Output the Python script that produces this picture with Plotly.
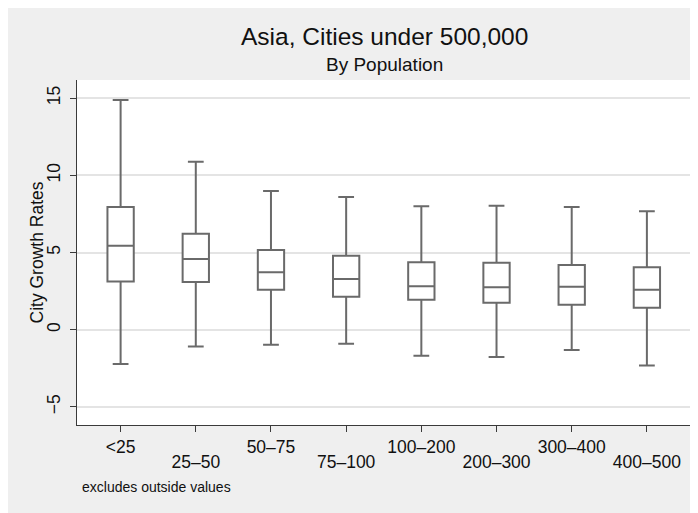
import plotly.graph_objects as go

# ---- data ----
categories = ["<25", "25\u201350", "50\u201375", "75\u2013100",
              "100\u2013200", "200\u2013300", "300\u2013400", "400\u2013500"]
upper_whisker = [14.88, 10.88, 8.98, 8.59, 7.99, 8.03, 7.95, 7.67]
q3_values     = [7.95, 6.22, 5.16, 4.79, 4.37, 4.34, 4.19, 4.04]
median_values = [5.44, 4.58, 3.72, 3.28, 2.81, 2.75, 2.79, 2.59]
q1_values     = [3.13, 3.09, 2.59, 2.14, 1.94, 1.75, 1.62, 1.42]
lower_whisker = [-2.22, -1.08, -0.97, -0.91, -1.68, -1.77, -1.31, -2.31]
y_ticks = [-5, 0, 5, 10, 15]
y_tick_labels = ["\u22125", "0", "5", "10", "15"]

title_text = "Asia, Cities under 500,000"
subtitle_text = "By Population"
y_title = "City Growth Rates"
note_text = "excludes outside values"

FONT = "Liberation Sans, Arial, Helvetica, sans-serif"
BG = "#efefef"
BOX_LINE = "#6a6a6a"
AXIS = "#3a3a3a"
TXT = "#111111"
TICK_SIZE = 17.5

positions = list(range(len(categories)))
even_pos = [p for p in positions if p % 2 == 0]
odd_pos = [p for p in positions if p % 2 == 1]

fig = go.Figure()
fig.add_trace(go.Box(
    x=positions,
    q1=q1_values, median=median_values, q3=q3_values,
    lowerfence=lower_whisker, upperfence=upper_whisker,
    fillcolor="white",
    line=dict(color=BOX_LINE, width=2),
    whiskerwidth=0.6,
    boxpoints=False,
    showlegend=False,
    hoverinfo="skip",
))
# helper empty trace so the second (staggered label) axis is drawn
fig.add_trace(go.Scatter(x=[], y=[], xaxis="x2", yaxis="y",
                         showlegend=False, hoverinfo="skip"))

# the page body adds an 8px offset; work in screen pixels and subtract it
OFF = 8
W, H = 698, 513
ML = 77 - OFF
MT = 80 - OFF
MR = W - (692 - OFF)
MB = H - (425 - OFF)
PW, PH = W - ML - MR, H - MT - MB

def px_x(sx):
    return (sx - OFF - ML) / PW

def px_y(sy):
    return (H - MB - (sy - OFF)) / PH

xrange_ = [-0.58, 7.6]

fig.update_layout(
    width=W, height=H,
    margin=dict(l=ML, r=MR, t=MT, b=MB, autoexpand=False),
    paper_bgcolor=BG,
    plot_bgcolor="white",
    boxgap=0.5,
    font=dict(family=FONT, color=TXT, size=TICK_SIZE),
    xaxis=dict(
        range=xrange_, tickvals=even_pos,
        ticktext=[categories[p] for p in even_pos],
        ticks="outside", ticklen=6, tickwidth=1.2, tickcolor=AXIS,
        showline=True, linecolor=AXIS, linewidth=1.3,
        showgrid=False, zeroline=False,
        tickfont=dict(size=TICK_SIZE, family=FONT, color=TXT),
        fixedrange=True,
    ),
    xaxis2=dict(
        overlaying="x", anchor="y", side="bottom",
        range=xrange_, tickvals=odd_pos,
        ticktext=[categories[p] for p in odd_pos],
        ticks="outside", ticklen=6, tickwidth=1.2, tickcolor=AXIS,
        ticklabelstandoff=15,
        showline=False, showgrid=False, zeroline=False,
        tickfont=dict(size=TICK_SIZE, family=FONT, color=TXT),
        fixedrange=True,
    ),
    yaxis=dict(
        range=[-6.17, 16.17], tickvals=y_ticks, ticktext=y_tick_labels,
        tickangle=-90, ticklabelstandoff=3,
        ticks="outside", ticklen=6, tickwidth=1.2, tickcolor=AXIS,
        showline=True, linecolor=AXIS, linewidth=1.3,
        showgrid=True, gridcolor="#e4e4e4", gridwidth=1.5,
        zeroline=False,
        tickfont=dict(size=TICK_SIZE, family=FONT, color=TXT),
        fixedrange=True,
    ),
    annotations=[
        dict(text=title_text, xref="paper", yref="paper",
             x=0.5, y=px_y(36.4), xanchor="center", yanchor="middle",
             showarrow=False, font=dict(size=24.5, family=FONT, color=TXT)),
        dict(text=subtitle_text, xref="paper", yref="paper",
             x=0.5, y=px_y(64.5), xanchor="center", yanchor="middle",
             showarrow=False, font=dict(size=19, family=FONT, color=TXT)),
        dict(text=y_title, xref="paper", yref="paper",
             x=px_x(36), y=0.5, xanchor="center", yanchor="middle",
             textangle=-90, showarrow=False,
             font=dict(size=17.5, family=FONT, color=TXT)),
        dict(text=note_text, xref="paper", yref="paper",
             x=px_x(80), y=px_y(487), xanchor="left", yanchor="middle",
             showarrow=False, font=dict(size=14, family=FONT, color=TXT)),
    ],
)

fig.write_html("out.html")
